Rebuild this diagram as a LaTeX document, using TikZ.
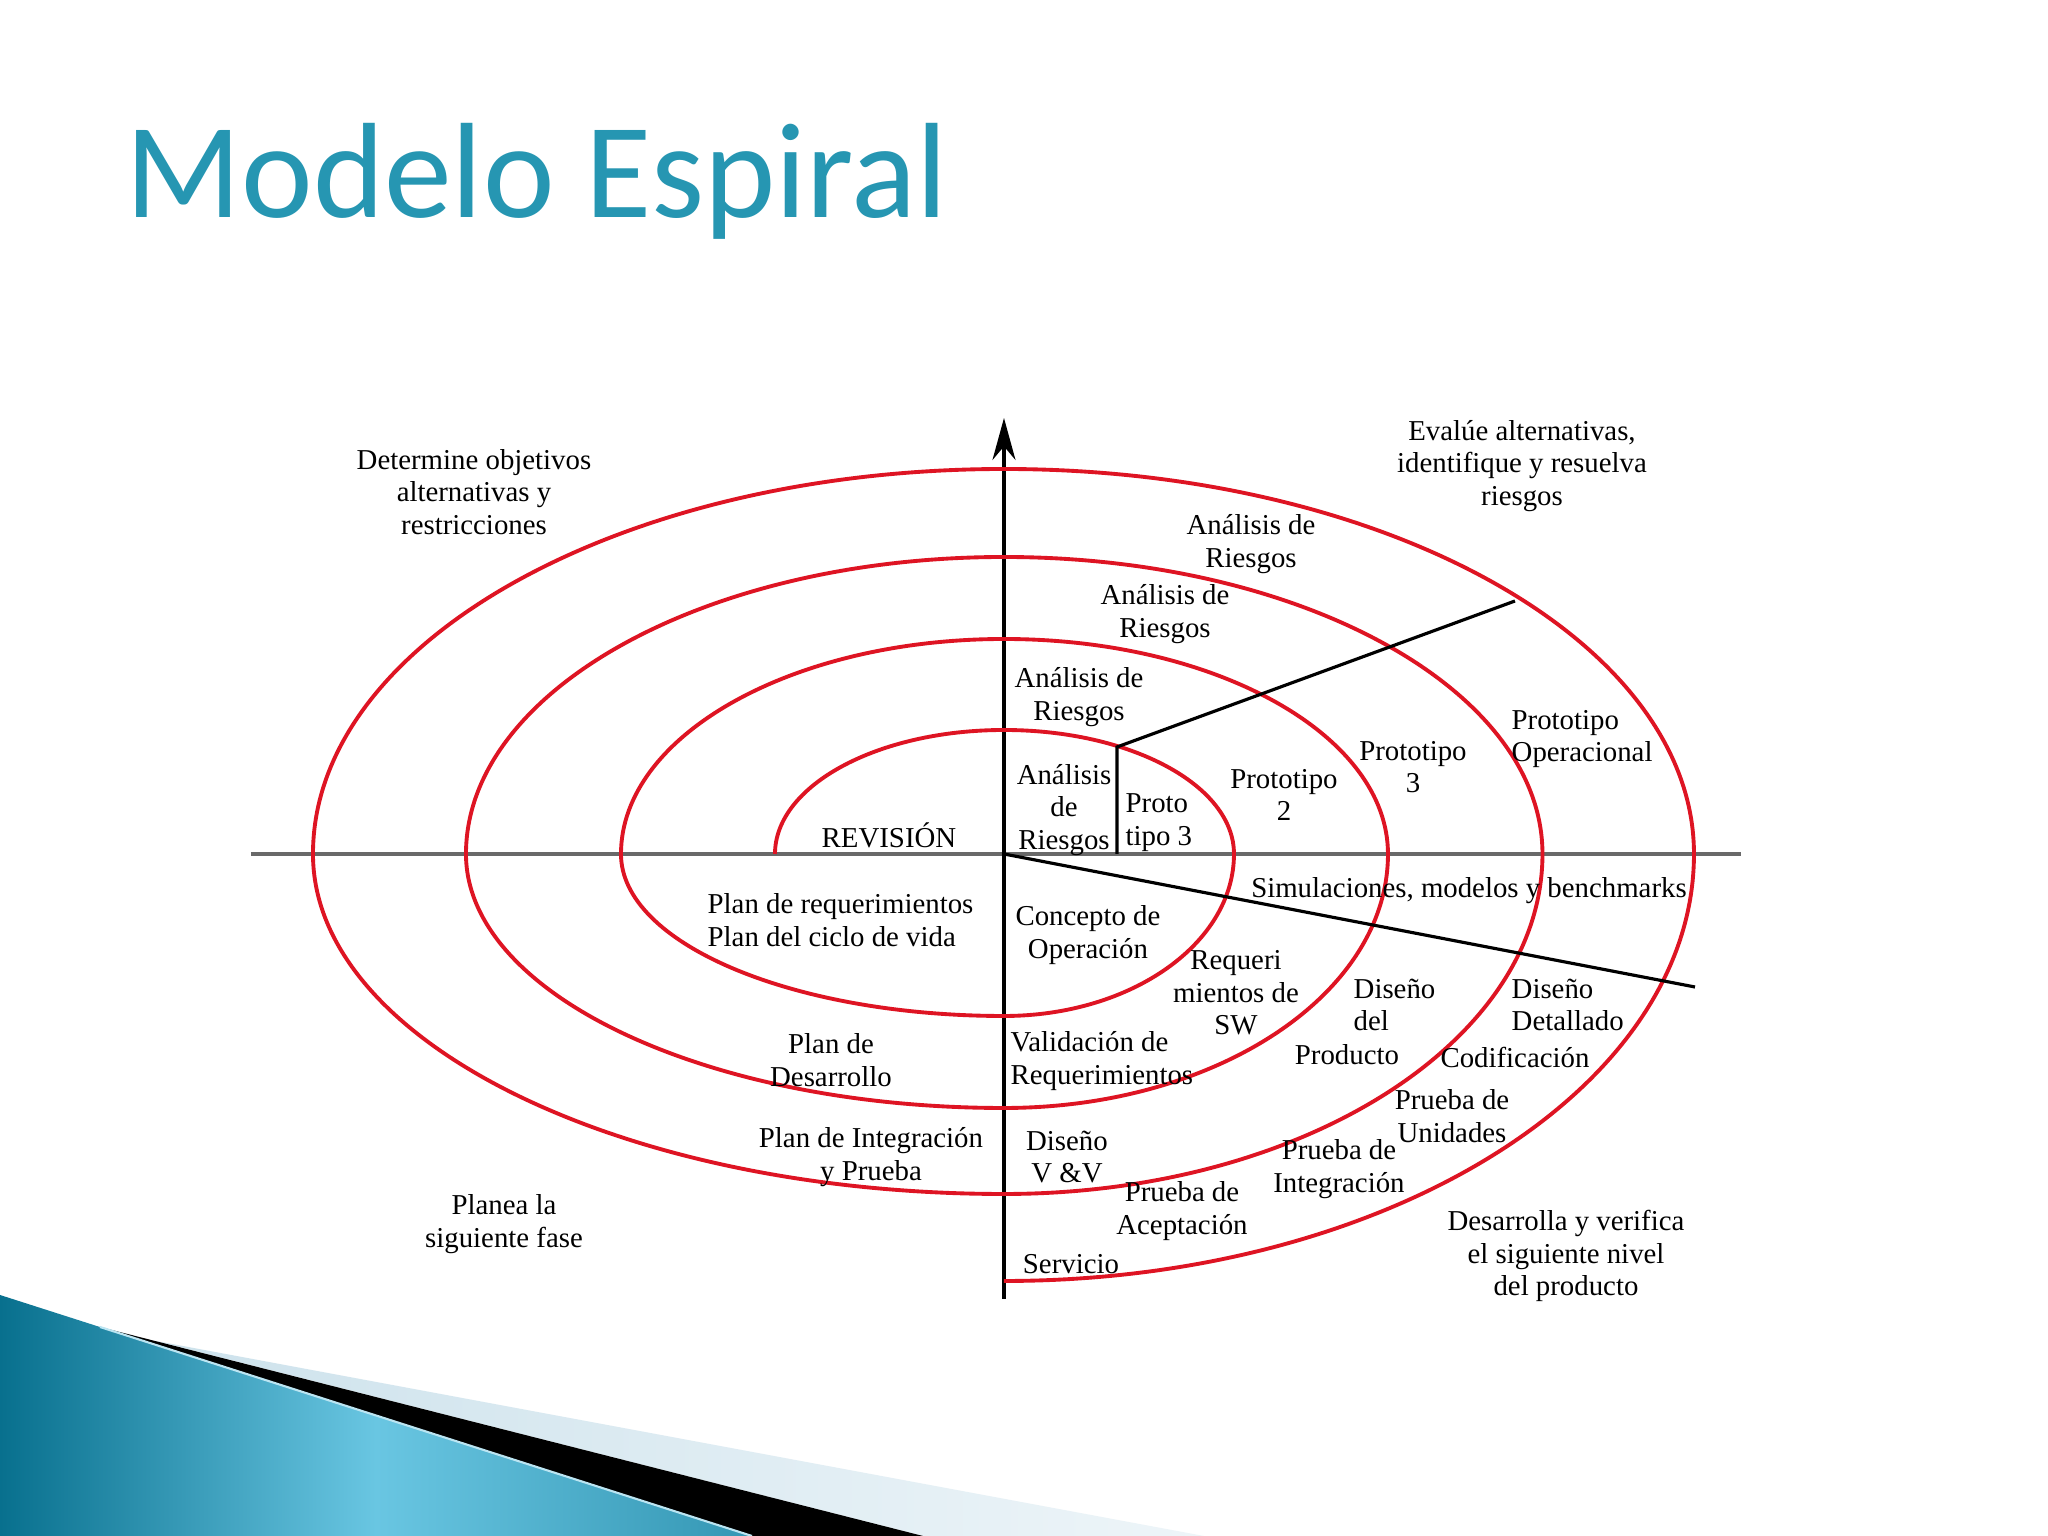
\documentclass[tikz,border=0pt]{standalone}
\usepackage{fontspec}
\setmainfont{Liberation Serif}
\newfontfamily\titlefont{Carlito}
\usepackage{tikz}
\usetikzlibrary{arrows.meta}
\definecolor{espiral}{RGB}{222,20,35}
\definecolor{ejegris}{RGB}{105,105,105}
\definecolor{titulo}{RGB}{38,150,178}
\definecolor{tealosc}{RGB}{8,112,142}
\definecolor{tealcla}{RGB}{105,198,226}
\definecolor{celeste}{RGB}{205,226,236}
\newcommand{\lblfont}{\fontsize{8.2}{9.3}\selectfont}

\begin{document}
\begin{tikzpicture}[font=\lblfont,
  lbl/.style={align=center, inner sep=0pt},
  spiral/.style={espiral, line width=1.1pt},
  eje/.style={black, line width=0.9pt}]
\useasboundingbox (-10.04,-6.82) rectangle (10.44,8.54);
\fill[white] (-10.04,-6.82) rectangle (10.44,8.54);
% esquina de la diapositiva
\shade[left color=tealosc, right color=tealosc!55!tealcla, middle color=tealcla] (-10.04,-4.41) -- (-2.52,-6.82) -- (-10.04,-6.82) -- cycle;
\shade[left color=celeste, right color=celeste!35!white] (-8.48,-4.87) -- (2.00,-6.82) -- (-0.81,-6.82) -- cycle;
\fill[black] (-9.04,-4.73) -- (-0.81,-6.82) -- (-2.52,-6.82) -- cycle;
\draw[white!55!tealcla, line width=0.6pt] (-9.04,-4.73) -- (-2.52,-6.82);
\node[font={\titlefont\fontsize{38.6}{44}\selectfont}, text=titulo, anchor=base west, inner sep=0pt] (titulo) at (-8.79,6.36) {Modelo Espiral};
% ejes
\coordinate (O) at (0,0);
\coordinate (ejeIzq) at (-7.53,0);
\coordinate (ejeDer) at (7.37,0);
\coordinate (ejeAbajo) at (0,-4.45);
\coordinate (ejeArriba) at (0,4.36);
\draw[ejegris, line width=1.4pt] (ejeIzq) -- (ejeDer);
\draw[eje, -{Stealth[length=4.2mm,width=2.3mm]}] (ejeAbajo) -- (ejeArriba);
% espiral
\draw[spiral] (-2.29,0)
  arc[start angle=180, end angle=90, x radius=2.29, y radius=1.24]
  arc[start angle=90, end angle=0, x radius=2.30, y radius=1.24]
  arc[start angle=0, end angle=-90, x radius=2.30, y radius=1.62]
  arc[start angle=270, end angle=180, x radius=3.83, y radius=1.62]
  arc[start angle=180, end angle=90, x radius=3.83, y radius=2.15]
  arc[start angle=90, end angle=0, x radius=3.84, y radius=2.15]
  arc[start angle=0, end angle=-90, x radius=3.84, y radius=2.54]
  arc[start angle=270, end angle=180, x radius=5.38, y radius=2.54]
  arc[start angle=180, end angle=90, x radius=5.38, y radius=2.97]
  arc[start angle=90, end angle=0, x radius=5.385, y radius=2.97]
  arc[start angle=0, end angle=-90, x radius=5.385, y radius=3.40]
  arc[start angle=270, end angle=180, x radius=6.91, y radius=3.40]
  arc[start angle=180, end angle=90, x radius=6.91, y radius=3.85]
  arc[start angle=90, end angle=0, x radius=6.90, y radius=3.85]
  arc[start angle=0, end angle=-90, x radius=6.90, y radius=4.27];
% cortes radiales
\coordinate (cortePie) at (1.13,0);
\coordinate (corteCodo) at (1.13,1.07);
\coordinate (corteFin) at (5.11,2.53);
\coordinate (simFin) at (6.91,-1.33);
\draw[eje] (cortePie) -- (corteCodo) -- (corteFin);
\draw[eje] (O) -- (simFin);
% textos
\node[lbl] (determina) at (-5.30,3.62) {Determine objetivos\\alternativas y\\restricciones};
\node[lbl] (evalua) at (5.18,3.88) {Evalúe alternativas,\\identifique y resuelva\\riesgos};
\node[lbl] (riesgo4) at (2.47,3.10) {Análisis de\\Riesgos};
\node[lbl] (riesgo3) at (1.61,2.40) {Análisis de\\Riesgos};
\node[lbl] (riesgo2) at (0.75,1.57) {Análisis de\\Riesgos};
\node[lbl] (riesgo1) at (0.60,0.44) {Análisis\\de\\Riesgos};
\node[lbl, align=left, anchor=west] (proto1) at (1.21,0.315) {Proto\\tipo 3};
\node[lbl] (proto2) at (2.80,0.59) {Prototipo\\2};
\node[lbl] (proto3) at (4.09,0.87) {Prototipo\\3};
\node[lbl, align=left, anchor=west] (protoop) at (5.07,1.15) {Prototipo\\Operacional};
\node[lbl] (revision) at (-1.15,0.19) {REVISIÓN};
\node[lbl] (simula) at (4.65,-0.37) {Simulaciones, modelos y benchmarks};
\node[lbl, align=left, anchor=west] (planreq) at (-2.97,-0.66) {Plan de requerimientos\\Plan del ciclo de vida};
\node[lbl] (concepto) at (0.84,-0.81) {Concepto de\\Operación};
\node[lbl] (requisw) at (2.32,-1.39) {Requeri\\mientos de\\SW};
\node[lbl, align=left, anchor=west] (disprod) at (3.49,-1.51) {Diseño\\del};
\node[lbl] (producto) at (3.43,-2.01) {Producto};
\node[lbl, align=left, anchor=west] (disdet) at (5.07,-1.51) {Diseño\\Detallado};
\node[lbl] (codifica) at (5.11,-2.04) {Codificación};
\node[lbl] (unidades) at (4.48,-2.62) {Prueba de\\Unidades};
\node[lbl] (integra) at (3.35,-3.15) {Prueba de\\Integración};
\node[lbl] (acepta) at (1.78,-3.57) {Prueba de\\Aceptación};
\node[lbl] (servicio) at (0.67,-4.10) {Servicio};
\node[lbl] (disvv) at (0.63,-3.03) {Diseño\\V \&V};
\node[lbl, align=left, anchor=west] (validareq) at (0.06,-2.07) {Validación de\\Requerimientos};
\node[lbl] (plandes) at (-1.73,-2.06) {Plan de\\Desarrollo};
\node[lbl] (planint) at (-1.33,-3.03) {Plan de Integración\\y Prueba};
\node[lbl] (planea) at (-5.00,-3.70) {Planea la\\siguiente fase};
\node[lbl] (desarrolla) at (5.62,-4.02) {Desarrolla y verifica\\el siguiente nivel\\del producto};
\end{tikzpicture}
\end{document}
